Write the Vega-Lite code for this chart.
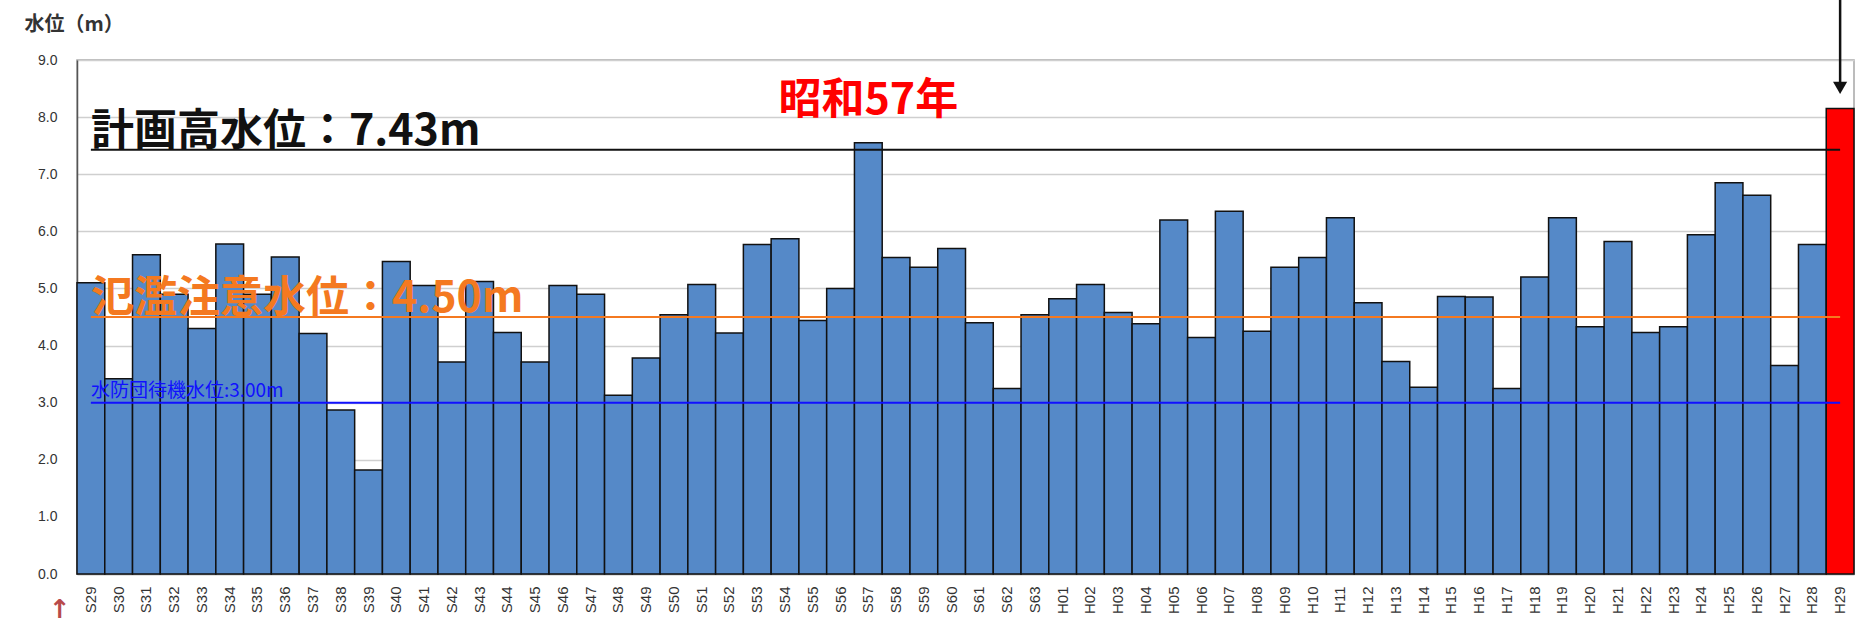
{
  "$schema": "https://vega.github.io/schema/vega-lite/v6.json",
  "width": 1777,
  "height": 514,
  "autosize": {"type": "none"},
  "padding": {"left": 77, "top": 60, "right": 6, "bottom": 53},
  "background": "white",
  "config": {
    "view": {"stroke": "#A6A6A6", "strokeWidth": 1.5},
    "font": "Liberation Sans"
  },
  "datasets": {
    "bars": [
      {"year": "S29", "level": 5.10}, {"year": "S30", "level": 3.42}, {"year": "S31", "level": 5.59},
      {"year": "S32", "level": 4.90}, {"year": "S33", "level": 4.30}, {"year": "S34", "level": 5.78},
      {"year": "S35", "level": 4.90}, {"year": "S36", "level": 5.55}, {"year": "S37", "level": 4.21},
      {"year": "S38", "level": 2.87}, {"year": "S39", "level": 1.82}, {"year": "S40", "level": 5.47},
      {"year": "S41", "level": 5.05}, {"year": "S42", "level": 3.71}, {"year": "S43", "level": 5.12},
      {"year": "S44", "level": 4.23}, {"year": "S45", "level": 3.71}, {"year": "S46", "level": 5.05},
      {"year": "S47", "level": 4.90}, {"year": "S48", "level": 3.13}, {"year": "S49", "level": 3.78},
      {"year": "S50", "level": 4.54}, {"year": "S51", "level": 5.07}, {"year": "S52", "level": 4.22},
      {"year": "S53", "level": 5.77}, {"year": "S54", "level": 5.87}, {"year": "S55", "level": 4.44},
      {"year": "S56", "level": 5.00}, {"year": "S57", "level": 7.55}, {"year": "S58", "level": 5.54},
      {"year": "S59", "level": 5.37}, {"year": "S60", "level": 5.70}, {"year": "S61", "level": 4.40},
      {"year": "S62", "level": 3.25}, {"year": "S63", "level": 4.54}, {"year": "H01", "level": 4.82},
      {"year": "H02", "level": 5.07}, {"year": "H03", "level": 4.58}, {"year": "H04", "level": 4.38},
      {"year": "H05", "level": 6.20}, {"year": "H06", "level": 4.14}, {"year": "H07", "level": 6.35},
      {"year": "H08", "level": 4.25}, {"year": "H09", "level": 5.37}, {"year": "H10", "level": 5.54},
      {"year": "H11", "level": 6.24}, {"year": "H12", "level": 4.75}, {"year": "H13", "level": 3.72},
      {"year": "H14", "level": 3.27}, {"year": "H15", "level": 4.86}, {"year": "H16", "level": 4.85},
      {"year": "H17", "level": 3.25}, {"year": "H18", "level": 5.20}, {"year": "H19", "level": 6.24},
      {"year": "H20", "level": 4.33}, {"year": "H21", "level": 5.82}, {"year": "H22", "level": 4.23},
      {"year": "H23", "level": 4.33}, {"year": "H24", "level": 5.94}, {"year": "H25", "level": 6.85},
      {"year": "H26", "level": 6.63}, {"year": "H27", "level": 3.65}, {"year": "H28", "level": 5.77},
      {"year": "H29", "level": 8.15}
    ],
    "levels": [
      {"name": "plan", "level": 7.43, "from": "S29", "to": "H29", "label": "計画高水位：7.43m"},
      {"name": "flood", "level": 4.5, "from": "S29", "to": "H29", "label": "氾濫注意水位：4.50m"},
      {"name": "standby", "level": 3.0, "from": "S29", "to": "H29", "label": "水防団待機水位:3.00m"}
    ],
    "notes": [
      {"year": "S57", "level": 8.05, "label": "昭和57年"}
    ],
    "arrow": [
      {"year": "H29", "top": 10.2, "tip": 8.55, "head": 8.51}
    ],
    "corner": [
      {"year": "S29", "level": -0.86, "label": "↑"}
    ]
  },
  "encoding": {
    "x": {
      "field": "year",
      "type": "nominal",
      "sort": null,
      "scale": {
        "domain": ["S29","S30","S31","S32","S33","S34","S35","S36","S37","S38","S39","S40","S41","S42","S43","S44","S45","S46","S47","S48","S49","S50","S51","S52","S53","S54","S55","S56","S57","S58","S59","S60","S61","S62","S63","H01","H02","H03","H04","H05","H06","H07","H08","H09","H10","H11","H12","H13","H14","H15","H16","H17","H18","H19","H20","H21","H22","H23","H24","H25","H26","H27","H28","H29"],
        "paddingInner": 0,
        "paddingOuter": 0
      },
      "axis": {
        "title": null,
        "labelAngle": 270,
        "ticks": false,
        "labelPadding": 12,
        "labelFontSize": 15,
        "labelColor": "#333333",
        "domainColor": "#A6A6A6",
        "domainWidth": 1.5,
        "labelOverlap": false
      }
    }
  },
  "layer": [
    {
      "data": {"name": "bars"},
      "mark": {"type": "bar", "stroke": "#111111", "strokeWidth": 1.5},
      "encoding": {
        "y": {
          "field": "level",
          "type": "quantitative",
          "scale": {"domain": [0, 9], "nice": false, "zero": true},
          "axis": {
            "values": [0, 1, 2, 3, 4, 5, 6, 7, 8, 9],
            "format": ".1f",
            "grid": true,
            "gridColor": "#CFCFCF",
            "gridWidth": 1.3,
            "domainColor": "#555555",
            "domainWidth": 1.5,
            "ticks": false,
            "labelPadding": 20,
            "labelFontSize": 14,
            "labelColor": "#333333",
            "title": "水位（m）",
            "titleAngle": 0,
            "titleAlign": "left",
            "titleBaseline": "alphabetic",
            "titleX": -53,
            "titleY": -30,
            "titleFontSize": 20,
            "titleFont": "Noto Sans CJK JP",
            "titleFontWeight": "bold",
            "titleColor": "#333333"
          }
        },
        "color": {
          "condition": {"test": "datum.year === 'H29'", "value": "#FF0000"},
          "value": "#5589C8"
        }
      }
    },
    {
      "data": {"name": "levels"},
      "mark": {"type": "rule", "strokeWidth": 2},
      "encoding": {
        "x": {"field": "from", "type": "nominal", "bandPosition": 0.5},
        "x2": {"field": "to"},
        "y": {"field": "level", "type": "quantitative"},
        "color": {
          "field": "name",
          "type": "nominal",
          "scale": {"domain": ["plan", "flood", "standby"], "range": ["#111111", "#F47920", "#1010FF"]},
          "legend": null
        }
      }
    },
    {
      "data": {"name": "levels"},
      "transform": [{"filter": "datum.name !== 'standby'"}],
      "mark": {"type": "text", "align": "left", "baseline": "alphabetic", "dy": -5, "fontSize": 43, "fontWeight": "bold", "font": "Noto Sans CJK JP"},
      "encoding": {
        "x": {"field": "from", "type": "nominal", "bandPosition": 0.5},
        "y": {"field": "level", "type": "quantitative"},
        "text": {"field": "label"},
        "color": {"field": "name", "type": "nominal", "legend": null}
      }
    },
    {
      "data": {"name": "levels"},
      "transform": [{"filter": "datum.name === 'standby'"}],
      "mark": {"type": "text", "align": "left", "baseline": "alphabetic", "dy": -6, "fontSize": 19, "font": "Noto Sans CJK JP"},
      "encoding": {
        "x": {"field": "from", "type": "nominal", "bandPosition": 0.5},
        "y": {"field": "level", "type": "quantitative"},
        "text": {"field": "label"},
        "color": {"field": "name", "type": "nominal", "legend": null}
      }
    },
    {
      "data": {"name": "notes"},
      "mark": {"type": "text", "align": "center", "baseline": "alphabetic", "fontSize": 43, "fontWeight": "bold", "font": "Noto Sans CJK JP", "color": "#FF0000"},
      "encoding": {
        "y": {"field": "level", "type": "quantitative"},
        "text": {"field": "label"}
      }
    },
    {
      "data": {"name": "arrow"},
      "mark": {"type": "rule", "strokeWidth": 2.5, "color": "#111111"},
      "encoding": {
        "y": {"field": "top", "type": "quantitative"},
        "y2": {"field": "tip"}
      }
    },
    {
      "data": {"name": "arrow"},
      "mark": {"type": "point", "shape": "triangle-down", "filled": true, "size": 200, "color": "#111111", "opacity": 1},
      "encoding": {
        "y": {"field": "head", "type": "quantitative"}
      }
    },
    {
      "data": {"name": "corner"},
      "mark": {"type": "text", "align": "center", "baseline": "bottom", "dx": -31, "fontSize": 26, "fontWeight": "bold", "font": "DejaVu Sans", "color": "#B84A4A"},
      "encoding": {
        "y": {"field": "level", "type": "quantitative"},
        "text": {"field": "label"}
      }
    }
  ]
}
